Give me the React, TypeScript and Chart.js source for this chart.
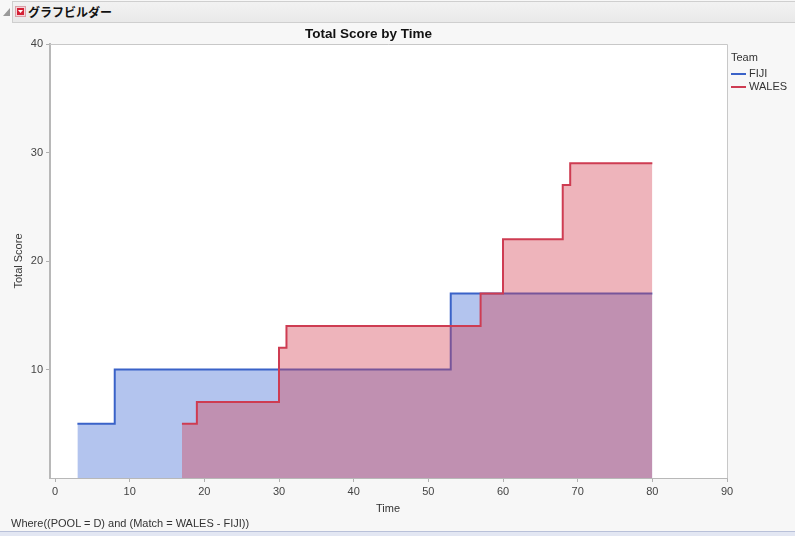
import React, { useEffect, useRef } from "react";
import { Chart, registerables } from "chart.js";

Chart.register(...registerables);

// ---- data ----
const teams = ["FIJI", "WALES"];
const fijiTime = [3, 8, 53, 80];
const fijiScore = [5, 10, 17, 17];
const walesTime = [17, 19, 30, 31, 57, 60, 68, 69, 80];
const walesScore = [5, 7, 12, 14, 17, 22, 27, 29, 29];
const xTickValues = [0, 10, 20, 30, 40, 50, 60, 70, 80, 90];
const yTickValues = [10, 20, 30, 40];

const chartTitle = "Total Score by Time";
const xTitle = "Time";
const yTitle = "Total Score";
const legendTitle = "Team";
const headerText = "グラフビルダー";
const footerText = "Where((POOL = D) and (Match = WALES - FIJI))";

const FONT = '"Liberation Sans", Arial, sans-serif';
const fijiLine = "rgb(58,98,200)";
const fijiFill = "rgba(65,107,212,0.4)";
const walesLine = "rgb(206,60,82)";
const walesFill = "rgba(212,67,85,0.4)";

const framePlugin = {
  id: "frame",
  beforeDraw(chart: any) {
    const { ctx, chartArea: a } = chart;
    ctx.save();
    ctx.fillStyle = "#ffffff";
    ctx.fillRect(a.left, a.top, a.right - a.left, a.bottom - a.top);
    ctx.restore();
  },
  afterDraw(chart: any) {
    const { ctx, chartArea: a } = chart;
    ctx.save();
    ctx.strokeStyle = "#c8c8c8";
    ctx.lineWidth = 1;
    ctx.beginPath();
    ctx.moveTo(a.left, a.top + 0.5);
    ctx.lineTo(a.right + 0.5, a.top + 0.5);
    ctx.lineTo(a.right + 0.5, a.bottom);
    ctx.stroke();
    ctx.restore();
  },
};

export default function App() {
  const ref = useRef<HTMLCanvasElement>(null);

  useEffect(() => {
    const canvas = ref.current;
    if (!canvas) return;
    const chart = new Chart(canvas, {
      type: "line",
      data: {
        datasets: [
          {
            label: teams[1],
            data: walesTime.map((t, i) => ({ x: t, y: walesScore[i] })),
            stepped: true,
            borderColor: walesLine,
            backgroundColor: walesFill,
            fill: "origin",
            borderWidth: 2,
            pointRadius: 0,
          },
          {
            label: teams[0],
            data: fijiTime.map((t, i) => ({ x: t, y: fijiScore[i] })),
            stepped: true,
            borderColor: fijiLine,
            backgroundColor: fijiFill,
            fill: "origin",
            borderWidth: 2,
            pointRadius: 0,
          },
        ],
      },
      options: {
        animation: false,
        responsive: false,
        devicePixelRatio: 1,
        layout: { padding: { top: 44, right: 68, left: 0, bottom: 0 } },
        plugins: {
          legend: { display: false },
          tooltip: { enabled: false },
          title: { display: false },
        },
        scales: {
          x: {
            type: "linear",
            min: -0.67,
            max: 90,
            afterBuildTicks: (ax: any) => {
              ax.ticks = xTickValues.map((v) => ({ value: v }));
            },
            afterFit: (s: any) => {
              s.height = 58;
            },
            grid: { drawOnChartArea: false, drawTicks: true, tickLength: 4, color: "#b0b0b0" },
            border: { color: "#b8b8b8", width: 1 },
            ticks: { font: { family: FONT, size: 11 }, color: "#444", padding: 3, maxRotation: 0, autoSkip: false },
          },
          y: {
            type: "linear",
            min: 0,
            max: 40,
            afterBuildTicks: (ax: any) => {
              ax.ticks = yTickValues.map((v) => ({ value: v }));
            },
            afterFit: (s: any) => {
              s.width = 50;
            },
            grid: { drawOnChartArea: false, drawTicks: true, tickLength: 4, color: "#b0b0b0" },
            border: { color: "#b8b8b8", width: 2 },
            ticks: { font: { family: FONT, size: 11 }, color: "#444", padding: 3, autoSkip: false },
          },
        },
      },
      plugins: [framePlugin],
    } as any);
    return () => chart.destroy();
  }, []);

  const text = { position: "absolute" as const, fontFamily: FONT, fontSize: 11, color: "#333", whiteSpace: "nowrap" as const, lineHeight: "13px" };

  return (
    <div style={{ position: "absolute", left: 0, top: 0, width: 795, height: 536, background: "#f7f7f7", overflow: "hidden" }}>
      {/* header bar */}
      <svg style={{ position: "absolute", left: 2, top: 7 }} width={9} height={10}>
        <polygon points="8,1 8,9 1,9" fill="#9a9a9a" />
      </svg>
      <div style={{ position: "absolute", left: 12, top: 1, width: 790, height: 20, border: "1px solid #cfcfcf", background: "linear-gradient(#f2f2f2, #e9e9e9)" }} />
      <svg style={{ position: "absolute", left: 15, top: 6 }} width={11} height={11}>
        <rect x={0.5} y={0.5} width={10} height={10} fill="#f4d4d8" stroke="#d9a0a8" />
        <rect x={2} y={2} width={7} height={7} fill="#d42035" />
        <polygon points="3,4 8,4 5.5,7" fill="#ffffff" />
      </svg>
      <div style={{ ...text, left: 28, top: 4, fontFamily: '"Noto Sans CJK JP", sans-serif', fontWeight: 700, fontSize: 12, color: "#111", lineHeight: "16px" }}>{headerText}</div>

      <canvas ref={ref} width={795} height={536} style={{ position: "absolute", left: 0, top: 0, width: 795, height: 536 }} />

      {/* chart title */}
      <div style={{ ...text, left: 0, width: 737, top: 26, textAlign: "center", fontWeight: 700, fontSize: 13.5, color: "#111", lineHeight: "16px" }}>{chartTitle}</div>
      {/* y title */}
      <div style={{ ...text, left: -22, top: 254, width: 80, height: 14, lineHeight: "14px", textAlign: "center", transform: "rotate(-90deg)", transformOrigin: "40px 7px" }}>{yTitle}</div>
      {/* x title */}
      <div style={{ ...text, left: 348, top: 502, width: 80, textAlign: "center" }}>{xTitle}</div>
      {/* legend */}
      <div style={{ ...text, left: 731, top: 51 }}>{legendTitle}</div>
      <div style={{ position: "absolute", left: 731, top: 73, width: 15, height: 2, background: fijiLine }} />
      <div style={{ ...text, left: 749, top: 67 }}>{teams[0]}</div>
      <div style={{ position: "absolute", left: 731, top: 86, width: 15, height: 2, background: walesLine }} />
      <div style={{ ...text, left: 749, top: 80 }}>{teams[1]}</div>
      {/* footer */}
      <div style={{ ...text, left: 11, top: 517 }}>{footerText}</div>
      <div style={{ position: "absolute", left: 0, top: 531, width: 795, height: 5, borderTop: "1px solid #b9c1d9", background: "#e3e7f3" }} />
    </div>
  );
}
